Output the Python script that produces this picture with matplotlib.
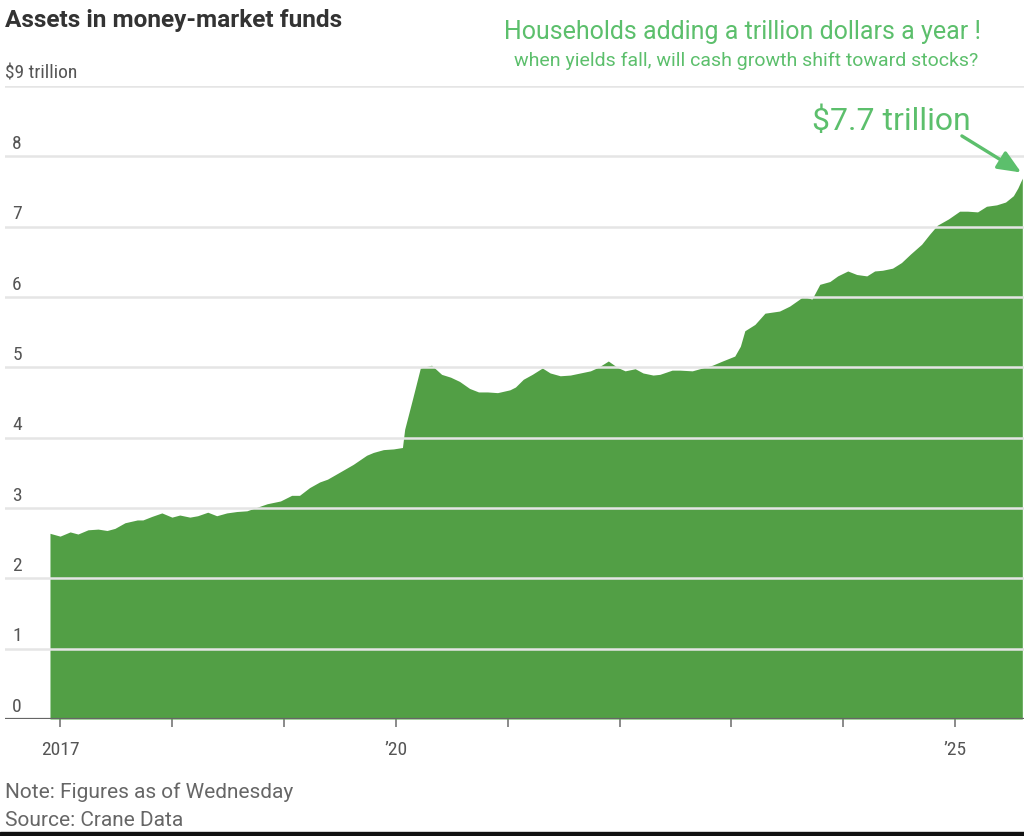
import matplotlib.pyplot as plt
from matplotlib.patches import Rectangle
from matplotlib import font_manager

# weekly-ish readings, decimal years and $ trillion
years = [2016.91, 2017.00, 2017.09, 2017.16, 2017.25, 2017.34, 2017.42, 2017.49, 2017.58, 2017.69,
         2017.74, 2017.82, 2017.91, 2018.00, 2018.07, 2018.16, 2018.23, 2018.32, 2018.40, 2018.49,
         2018.58, 2018.67, 2018.76, 2018.85, 2018.97, 2019.07, 2019.14, 2019.23, 2019.32, 2019.39,
         2019.50, 2019.62, 2019.74, 2019.80, 2019.89, 2019.98, 2020.06, 2020.08, 2020.15, 2020.22,
         2020.32, 2020.41, 2020.49, 2020.57, 2020.66, 2020.74, 2020.82, 2020.91, 2021.02, 2021.07,
         2021.14, 2021.22, 2021.31, 2021.38, 2021.47, 2021.56, 2021.65, 2021.74, 2021.81, 2021.90,
         2021.98, 2022.05, 2022.14, 2022.21, 2022.30, 2022.36, 2022.47, 2022.54, 2022.65, 2022.74,
         2022.83, 2022.92, 2023.03, 2023.08, 2023.12, 2023.21, 2023.30, 2023.43, 2023.52, 2023.61,
         2023.64, 2023.72, 2023.79, 2023.88, 2023.95, 2024.04, 2024.12, 2024.21, 2024.28, 2024.35,
         2024.44, 2024.52, 2024.60, 2024.70, 2024.77, 2024.84, 2024.94, 2025.04, 2025.11, 2025.20,
         2025.28, 2025.37, 2025.45, 2025.52, 2025.56, 2025.60]
assets = [2.64, 2.60, 2.66, 2.63, 2.69, 2.70, 2.68, 2.71, 2.79, 2.83,
          2.83, 2.88, 2.93, 2.87, 2.90, 2.87, 2.89, 2.94, 2.89, 2.93,
          2.95, 2.96, 3.01, 3.06, 3.10, 3.18, 3.18, 3.29, 3.37, 3.41,
          3.51, 3.62, 3.75, 3.79, 3.83, 3.84, 3.86, 4.12, 4.55, 4.99,
          5.03, 4.90, 4.86, 4.80, 4.70, 4.65, 4.65, 4.64, 4.68, 4.72,
          4.83, 4.90, 4.99, 4.92, 4.88, 4.89, 4.92, 4.95, 5.00, 5.09,
          5.00, 4.95, 4.98, 4.92, 4.89, 4.90, 4.96, 4.96, 4.95, 4.99,
          5.03, 5.09, 5.16, 5.30, 5.52, 5.61, 5.77, 5.80, 5.87, 5.97,
          6.01, 5.97, 6.18, 6.22, 6.30, 6.37, 6.32, 6.30, 6.37, 6.38,
          6.41, 6.49, 6.61, 6.75, 6.89, 7.02, 7.11, 7.22, 7.22, 7.21,
          7.29, 7.31, 7.35, 7.44, 7.55, 7.69]

y_ticks = [0, 1, 2, 3, 4, 5, 6, 7, 8, 9]
y_labels = ['0', '1', '2', '3', '4', '5', '6', '7', '8', '$9 trillion']
x_ticks = [2017, 2018, 2019, 2020, 2021, 2022, 2023, 2024, 2025]
x_labels = {2017: '2017', 2020: '\u201920', 2025: '\u201925'}

installed = {f.name for f in font_manager.fontManager.ttflist}
narrow = [n for n in ['Roboto Condensed', 'Liberation Sans Narrow', 'Roboto'] if n in installed]
narrow = narrow[:1] + ['DejaVu Sans']
is_cond = narrow[0] != 'Roboto'
green_txt = '#5cbf6c'
fill_col = '#529f45'

fig = plt.figure(figsize=(10.24, 8.37), dpi=100)
ax = fig.add_axes([5 / 1024, 117 / 837, 1019 / 1024, 633 / 837])

ax.fill_between(years, assets, 0, color=fill_col, lw=0, zorder=2)

ax.set_xlim(2016.508, 2025.615)
ax.set_ylim(0, 9)

for v in y_ticks[1:]:
    ax.axhline(v, color='#e5e5e5', lw=1.8, zorder=3 if v < 8 else 1)
ax.axhline(0, color='#666666', lw=1.6, zorder=4)

for s in ax.spines.values():
    s.set_visible(False)
ax.set_yticks([])
ax.set_xticks(x_ticks)
ax.set_xticklabels([x_labels.get(t, '') for t in x_ticks], fontsize=14 if is_cond else 13,
                   color='#555555', family=narrow)
ax.tick_params(axis='x', length=6, width=1.2, color='#777777', pad=9)

for v, lab in zip(y_ticks, y_labels):
    xpos = 0.0 if v == 9 else 0.007
    ax.text(xpos, v + 0.06, lab, transform=ax.get_yaxis_transform(), ha='left', va='bottom',
            fontsize=14 if is_cond else 13, color='#555555', family=narrow)

fig.text(5 / 1024, 1 - 21 / 837, 'Assets in money-market funds', ha='left', va='center',
         fontsize=17.6, fontweight='bold', color='#333333', family='Roboto')

fig.text(742 / 1024, 1 - 32 / 837, 'Households adding a trillion dollars a year !', ha='center',
         va='center', fontsize=18, color=green_txt, family='Roboto')
fig.text(746 / 1024, 1 - 61 / 837, 'when yields fall, will cash growth shift toward stocks?',
         ha='center', va='center', fontsize=14, color=green_txt, family='Roboto')

ax.text(2024.43, 8.52, '$7.7 trillion', ha='center', va='center', fontsize=23,
        color=green_txt, family='Roboto')
ax.annotate('', xy=(years[-1] - 0.01, assets[-1] + 0.08), xytext=(2025.06, 8.29),
            arrowprops=dict(arrowstyle='-|>,head_length=1.4,head_width=0.6', color=green_txt,
                            lw=2.4, shrinkA=0, shrinkB=0))

fig.text(5 / 1024, 1 - 792 / 837, 'Note: Figures as of Wednesday', ha='left', va='center',
         fontsize=15, color='#666666', family='Roboto')
fig.text(5 / 1024, 1 - 821 / 837, 'Source: Crane Data', ha='left', va='center',
         fontsize=15, color='#666666', family='Roboto')

fig.patches.append(Rectangle((0, 0), 1, 4 / 837, transform=fig.transFigure,
                             color='#111111', zorder=10))

fig.savefig('out.png', dpi=100)
